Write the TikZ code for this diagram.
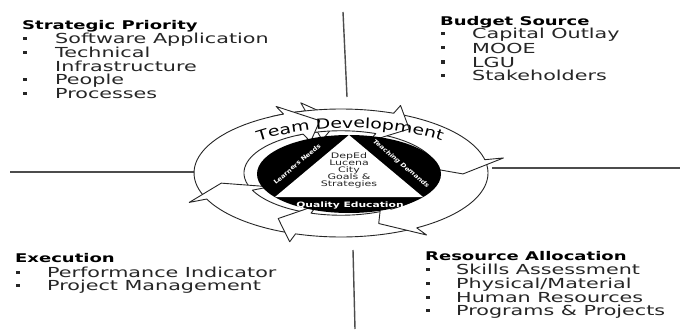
\documentclass[tikz,border=0pt]{standalone}
\usepackage{fontspec}
\setmainfont{DejaVu Sans}[FakeStretch=1.5]
\newfontfamily\ringfont{DejaVu Sans}[FakeStretch=1.35]
\newfontfamily\corefont{DejaVu Sans}[FakeStretch=1.45]
\newfontfamily\sidefont{DejaVu Sans}[FakeStretch=1.12]
\usetikzlibrary{decorations.text}

% ring geometry (centre, radii, relative band radii, head length in degrees)
\def\rcx{341}\def\rcy{173}\def\rax{147}\def\ray{64}
\def\rin{0.66}\def\rout{1.0}\def\rbo{1.13}\def\rbi{0.53}\def\rtip{0.83}\def\hd{13}

% one curved arrow of the cycle, running clockwise from angle #1 to its tip at #2
\newcommand\ringarrow[2]{%
  \pgfmathsetmacro\ra{#1}\pgfmathsetmacro\rb{#2-\hd}\pgfmathsetmacro\rc{#2}%
  \filldraw[arrowbody]
    plot[domain=\ra:\rb,samples=30] ({\rcx+\rout*\rax*cos(\x)},{\rcy+\rout*\ray*sin(\x)})
    -- ({\rcx+\rbo*\rax*cos(\rb)},{\rcy+\rbo*\ray*sin(\rb)})
    -- ({\rcx+\rtip*\rax*cos(\rc)},{\rcy+\rtip*\ray*sin(\rc)})
    -- ({\rcx+\rbi*\rax*cos(\rb)},{\rcy+\rbi*\ray*sin(\rb)})
    -- plot[domain=\rb:\ra,samples=30] ({\rcx+\rin*\rax*cos(\x)},{\rcy+\rin*\ray*sin(\x)})
    -- cycle;}

\begin{document}
\begin{tikzpicture}[x=1pt,y=-1pt,
  arrowbody/.style={fill=white,draw=black!85,line width=0.9pt,line join=round},
  sepline/.style={draw=black!70,line width=1.4pt},
  heading/.style={anchor=base west,inner sep=0pt,font=\fontsize{12}{13}\selectfont\bfseries,text=black},
  item/.style={anchor=base west,inner sep=0pt,font=\fontsize{13.8}{14}\selectfont,text=black!85},
  bulletsq/.style={fill=black!85,minimum width=4pt,minimum height=3pt,inner sep=0pt,draw=none},
  sidetext/.style={inner sep=0pt,text=white,font=\sidefont\fontsize{6}{7}\selectfont\bfseries},
  coretext/.style={inner sep=0pt,text=white,font=\corefont\fontsize{7.4}{8}\selectfont\bfseries},
  goaltext/.style={inner sep=0pt,align=center,text=black!85,font=\corefont\fontsize{7.6}{8}\selectfont}]
\useasboundingbox (0,0) rectangle (690,329);
\fill[white] (0,0) rectangle (690,329);

% separator lines between the four quadrants
\coordinate (topA) at (343,12);   \coordinate (topB) at (347,97);
\coordinate (botA) at (353,250);  \coordinate (botB) at (355,329);
\coordinate (lftA) at (10,172);   \coordinate (lftB) at (196,172);
\coordinate (rgtA) at (492,168);  \coordinate (rgtB) at (680,168);
\draw[sepline] (topA) -- (topB);
\draw[sepline] (botA) -- (botB);
\draw[sepline] (lftA) -- (lftB);
\draw[sepline] (rgtA) -- (rgtB);

% cycle of arrows ("Team Development")
\ringarrow{158}{269}
\ringarrow{109}{169}
\ringarrow{60}{121}
\ringarrow{-12}{72}
\ringarrow{-69}{1}
\ringarrow{-113}{-56}
\begin{scope}
  \clip (\rcx,\rcy) -- ({\rcx+2*\rax*cos(-118)},{\rcy+2*\ray*sin(-118)})
        -- ({\rcx+2*\rax*cos(-98)},{\rcy+2*\ray*sin(-98)}) -- cycle;
  \ringarrow{-160}{-100}
\end{scope}

% central disc with triangle
\fill[black] (349,174) ellipse [x radius=92pt,y radius=39pt];
\fill[white] (349,135) -- (275,197) -- (423,197) -- cycle;

\path[decorate,decoration={text along path,text align=center,
      text={|\ringfont\fontsize{14}{14}\selectfont|Team Development}}]
  plot[domain=198:342,samples=80] ({350+133*cos(\x)},{176+48*sin(\x)});

\node[goaltext] (goals) at (349,170)
  {DepEd\\[-1pt]Lucena\\[-1pt]City\\[-1pt]Goals \&\\[-1pt]Strategies};
\node[sidetext,rotate=40] (learners) at (297,164) {Learners Needs};
\node[sidetext,rotate=-40,font=\sidefont\fontsize{6}{7}\selectfont\bfseries\itshape] (teaching) at (401,164) {Teaching Demands};
\node[coretext] (quality) at (350,205) {Quality Education};

% Strategic Priority
\node[heading] (sp) at (22,29.5) {Strategic Priority};
\node[item] (sp1) at (55,44) {Software Application};
\node[item] (sp2) at (55,58) {Technical};
\node[item] (sp3) at (55,71) {Infrastructure};
\node[item] (sp4) at (55,84) {People};
\node[item] (sp5) at (55,98) {Processes};
\node[bulletsq] (spb1) at (24.5,39) {};
\node[bulletsq] (spb2) at (24.5,53) {};
\node[bulletsq] (spb4) at (24.5,79) {};
\node[bulletsq] (spb5) at (24.5,93) {};

% Budget Source
\node[heading] (bs) at (440,25.5) {Budget Source};
\node[item] (bs1) at (472,39) {Capital Outlay};
\node[item] (bs2) at (472,53) {MOOE};
\node[item] (bs3) at (472,67) {LGU};
\node[item] (bs4) at (472,80) {Stakeholders};
\node[bulletsq] (bsb1) at (442.5,34) {};
\node[bulletsq] (bsb2) at (442.5,48) {};
\node[bulletsq] (bsb3) at (442.5,62) {};
\node[bulletsq] (bsb4) at (442.5,75) {};

% Execution
\node[heading] (ex) at (15,262.5) {Execution};
\node[item] (ex1) at (47,277) {Performance Indicator};
\node[item] (ex2) at (47,290) {Project Management};
\node[bulletsq] (exb1) at (17.5,272) {};
\node[bulletsq] (exb2) at (17.5,285) {};

% Resource Allocation
\node[heading] (ra) at (425,260.5) {Resource Allocation};
\node[item] (ra1) at (456,274) {Skills Assessment};
\node[item] (ra2) at (456,288) {Physical/Material};
\node[item] (ra3) at (456,302) {Human Resources};
\node[item] (ra4) at (456,315) {Programs \& Projects};
\node[bulletsq] (rab1) at (427.5,269) {};
\node[bulletsq] (rab2) at (427.5,283) {};
\node[bulletsq] (rab3) at (427.5,297) {};
\node[bulletsq] (rab4) at (427.5,310) {};
\end{tikzpicture}
\end{document}
